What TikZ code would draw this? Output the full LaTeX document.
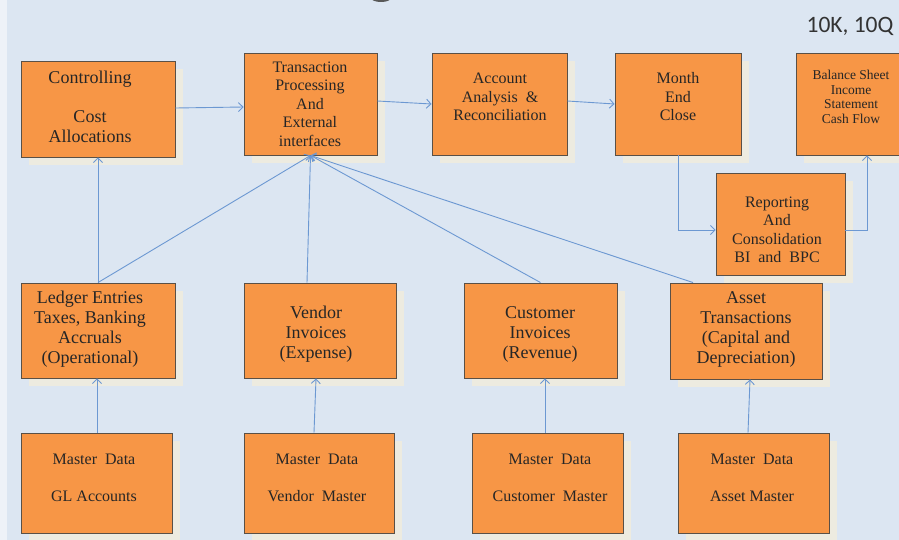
\documentclass[tikz,border=0pt]{standalone}
\usepackage{fontspec}
\setmainfont{Liberation Serif}
\newfontfamily\labelsans{Carlito}
\usetikzlibrary{arrows.meta,shadows}

\definecolor{bgblue}{HTML}{DCE6F2}
\definecolor{edgestrip}{HTML}{EEF2F8}
\definecolor{boxorange}{HTML}{F79646}
\definecolor{boxedge}{HTML}{5A5046}
\definecolor{shade}{HTML}{EDEBE0}
\definecolor{flow}{HTML}{6C98D2}

\begin{document}
\begin{tikzpicture}[x=1pt,y=-1pt,
  box/.style={draw=boxedge, line width=0.9pt, fill=boxorange, inner sep=0pt,
    general shadow={fill=shade, shadow xshift=8pt, shadow yshift=-8pt}},
  txt/.style={align=center, inner sep=0pt, text=black!85},
  big/.style={txt, font=\fontsize{18}{20}\selectfont},
  mid/.style={txt, font=\fontsize{16}{18.5}\selectfont},
  small/.style={txt, font=\fontsize{13.5}{14.5}\selectfont},
  master/.style={txt, font=\fontsize{16}{37}\selectfont},
  flowline/.style={draw=flow, line width=0.9pt, -{Straight Barb[length=4.5pt,width=9pt]}}]

% page and background
\clip (0,0) rectangle (899,540);
\fill[bgblue] (0,0) rectangle (899,540);
\fill[edgestrip] (0,0) rectangle (7,540);
\fill[gray!70!black] (381,-2) ellipse [x radius=10pt, y radius=4pt];

\node[font=\labelsans\fontsize{23.5}{26}\selectfont, text=black!80] (tenk) at (850,26) {10K, 10Q};

% top row
\node[box, minimum width=154pt, minimum height=96pt]  (ctl) at (98,109) {};
\node[box, minimum width=133pt, minimum height=102pt] (tp)  at (310.5,104) {};
\node[box, minimum width=135pt, minimum height=102pt] (acc) at (499.5,104) {};
\node[box, minimum width=126pt, minimum height=102pt] (mec) at (678,104) {};
\node[box, minimum width=110pt, minimum height=102pt] (bs)  at (851,104) {};
\node[box, minimum width=129pt, minimum height=102pt] (rep) at (780.5,224) {};

\node[big]   (ctl-t) at (90,107)  {Controlling\\[19pt]Cost\\Allocations};
\node[mid]   (tp-t)  at (310,104) {Transaction\\Processing\\And\\External\\interfaces};
\node[mid]   (acc-t) at (500,97)  {Account\\Analysis~~\&\\Reconciliation};
\node[mid]   (mec-t) at (678,97)  {Month\\End\\Close};
\node[small] (bs-t)  at (851,97)  {Balance Sheet\\Income\\Statement\\Cash Flow};
\node[mid]   (rep-t) at (777,230) {Reporting\\And\\Consolidation\\BI~~and~~BPC};

% transaction sources
\node[box, minimum width=154pt, minimum height=95pt] (led) at (98,330.5) {};
\node[box, minimum width=152pt, minimum height=95pt] (ven) at (320,330.5) {};
\node[box, minimum width=153pt, minimum height=95pt] (cus) at (540.5,330.5) {};
\node[box, minimum width=152pt, minimum height=96pt] (ast) at (746,331) {};

\node[big] (led-t) at (90,329)  {Ledger Entries\\Taxes, Banking\\Accruals\\(Operational)};
\node[big] (ven-t) at (316,334) {Vendor\\Invoices\\(Expense)};
\node[big] (cus-t) at (540,334) {Customer\\Invoices\\(Revenue)};
\node[big] (ast-t) at (746,329) {Asset\\Transactions\\(Capital and\\Depreciation)};

% master data
\node[box, minimum width=151pt, minimum height=100pt] (mgl)  at (96.5,483) {};
\node[box, minimum width=150pt, minimum height=100pt] (mven) at (319,483) {};
\node[box, minimum width=151pt, minimum height=100pt] (mcus) at (547.5,483) {};
\node[box, minimum width=151pt, minimum height=100pt] (mast) at (753.5,483) {};

\node[master] (mgl-t)  at (94,478)  {Master~~Data\\GL Accounts};
\node[master] (mven-t) at (317,478) {Master~~Data\\Vendor~~Master};
\node[master] (mcus-t) at (550,478) {Master~~Data\\Customer~~Master};
\node[master] (mast-t) at (752,478) {Master~~Data\\Asset Master};

% flow along the top
\draw[flowline] (ctl.east |- 0,108) -- (tp.west |- 0,107);
\draw[flowline] (tp.east |- 0,101) -- (acc.west |- 0,104);
\draw[flowline] (acc.east |- 0,101) -- (mec.west |- 0,104);
\draw[flowline] (mec.south) |- (rep.west |- 0,230);
\draw[flowline] (rep.east |- 0,230) -| (bs.south -| 867,0);

% sources into transaction processing
\draw[flowline] (led.north) -- (ctl.south);
\draw[flowline] (led.north) -- (tp.south);
\draw[flowline] (ven.north -| 307,0) -- (tp.south);
\draw[flowline] (cus.north) -- (tp.south);
\draw[flowline] (ast.north -| 693,0) -- (tp.south);

% master data feeds
\draw[flowline] (mgl.north -| 97,0) -- (led.south -| 97,0);
\draw[flowline] (mven.north -| 314,0) -- (ven.south -| 316,0);
\draw[flowline] (mcus.north -| 545,0) -- (cus.south -| 545,0);
\draw[flowline] (mast.north -| 748,0) -- (ast.south -| 750,0);
\end{tikzpicture}
\end{document}
